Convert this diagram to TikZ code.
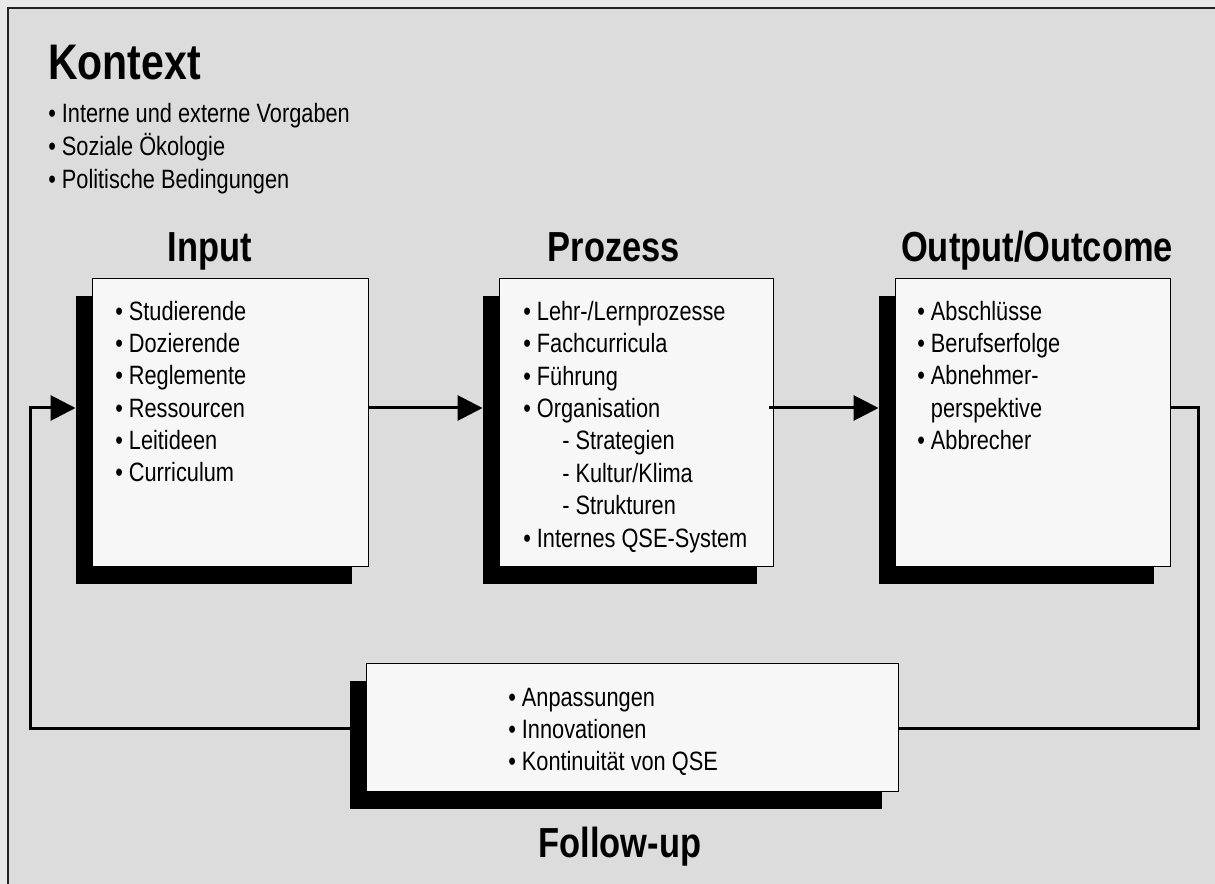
\documentclass[tikz,border=0pt]{standalone}
\usepackage{fontspec}
\setmainfont{Liberation Sans}[FakeStretch=0.82]
\usetikzlibrary{arrows.meta,calc,shadows}

\definecolor{pagebg}{HTML}{E8E8E8}
\definecolor{panel}{HTML}{DCDCDC}
\definecolor{cardfill}{HTML}{F7F7F7}
\definecolor{frameline}{HTML}{222222}

\tikzset{
  card/.style={draw=black, line width=1.1pt, fill=cardfill, inner sep=0pt,
    anchor=north west,
    drop shadow={shadow xshift=-12.4pt, shadow yshift=-12.75pt, fill=black, opacity=1}},
  heading/.style={font=\fontsize{31.5}{36}\selectfont\bfseries, inner sep=0pt, anchor=base},
  % lists are placed by the baseline of their last line
  items/.style={font=\fontsize{19.9}{24.3}\selectfont, align=left, inner sep=0pt, anchor=base west},
  link/.style={line width=2.25pt, draw=black},
  tip/.style={-{Triangle[length=18.75pt,width=18.75pt]}}
}

\begin{document}
\begin{tikzpicture}[x=0.75pt, y=-0.75pt]
  % page and panel
  \fill[pagebg] (0,0) rectangle (1215,884);
  \useasboundingbox (0,0) rectangle (1215,884);
  \fill[panel] (8,8) rectangle (1215,884);
  \draw[frameline, line width=1.5pt] (8,884) -- (8,8) -- (1215,8);

  % context block
  \node[font=\fontsize{37.5}{42}\selectfont\bfseries, inner sep=0pt, anchor=base west] (ctxtitle) at (48,80) {Kontext};
  \node[items, font=\fontsize{19.9}{24.75}\selectfont] (ctxitems) at (48,189)
    {• Interne und externe Vorgaben\\• Soziale Ökologie\\• Politische Bedingungen};

  % the four cards
  \node[card, minimum width=207pt, minimum height=216pt] (inp) at (92,278) {};
  \node[card, minimum width=205.5pt, minimum height=216pt] (proz) at (499,278) {};
  \node[card, minimum width=206.25pt, minimum height=216pt] (outp) at (895,278) {};
  \node[card, minimum width=399pt, minimum height=96pt] (fup) at (366,663) {};

  % headings
  \node[heading] (inptitle) at (210,262) {Input};
  \node[heading] (proztitle) at (614,262) {Prozess};
  \node[heading] (outptitle) at (1037,262) {Output/Outcome};
  \node[heading] (fuptitle) at (620,857) {Follow-up};

  % card contents
  \node[items] (inpitems) at (115,482)
    {• Studierende\\• Dozierende\\• Reglemente\\• Ressourcen\\• Leitideen\\• Curriculum};
  \node[items] (prozitems) at (523,547)
    {• Lehr-/Lernprozesse\\• Fachcurricula\\• Führung\\• Organisation\\
     \hspace*{29.25pt}- Strategien\\\hspace*{29.25pt}- Kultur/Klima\\\hspace*{29.25pt}- Strukturen\\
     • Internes QSE-System};
  \node[items] (outpitems) at (917,449.6)
    {• Abschlüsse\\• Berufserfolge\\• Abnehmer-\\\hphantom{•\ }perspektive\\• Abbrecher};
  \node[items, font=\fontsize{19.9}{23.8}\selectfont] (fupitems) at (508,770)
    {• Anpassungen\\• Innovationen\\• Kontinuität von QSE};

  % routing rows
  \coordinate (row) at (0,408);
  \coordinate (rloop) at (1198,728);
  \coordinate (lloop) at (30,728);

  % flow connectors
  \draw[link, tip] (inp.east |- row) -- ($(proz.west |- row)+(-16.5,0)$);
  \draw[link, tip] ($(proz.east |- row)+(-5,0)$) -- ($(outp.west |- row)+(-16.5,0)$);
  \draw[link] (outp.east |- row) -| (rloop) -- (fup.east |- rloop);
  \draw[link, tip] ($(fup.west |- lloop)+(-16.5,0)$) -- (lloop) |- ($(inp.west |- row)+(-16.5,0)$);
\end{tikzpicture}
\end{document}
